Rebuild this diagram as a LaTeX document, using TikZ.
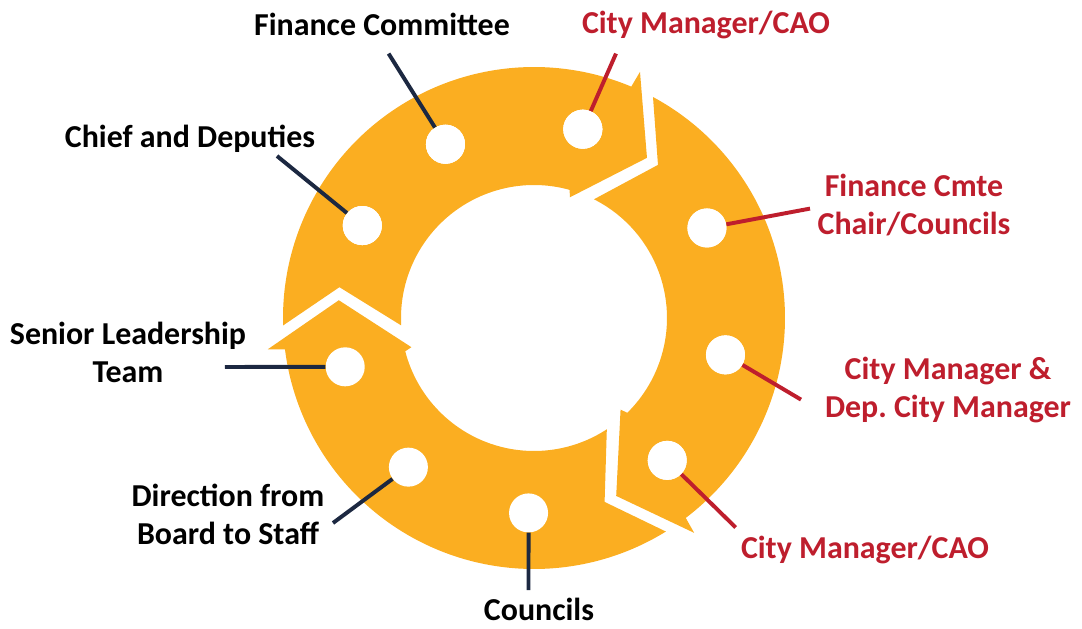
\documentclass[tikz,border=0pt]{standalone}
\usepackage{fontspec}
\setmainfont{Carlito}
\frenchspacing
\definecolor{ringorange}{HTML}{FBAE21}
\definecolor{labelred}{HTML}{BE1E2D}
\definecolor{linenavy}{HTML}{1C2841}
\tikzset{
  ring/.style={fill=ringorange},
  dot/.style={circle,fill=white,inner sep=0pt,minimum size=0.975cm},
  lbl/.style={font=\fontsize{22.7}{27}\selectfont\bfseries,align=center},
  navyline/.style={draw=linenavy,line width=2.8pt},
  redline/.style={draw=labelred,line width=2.8pt}
}
\newcommand*{\cyclearrow}[1]{%
  \fill[ring,rotate=#1] (181.7:251) arc[start angle=181.7,end angle=67.2,radius=251]
    -- (66.7:268) -- (54.8:196) -- (73.4:126) -- (74.5:133)
    arc[start angle=74.5,end angle=183.2,radius=133] -- (171:197) -- cycle;}

\begin{document}
\begin{tikzpicture}[x=0.025cm,y=0.025cm]
\useasboundingbox (-534,-311) rectangle (548,318);
\foreach \r in {0,-120,-240}
  \cyclearrow{\r}
\foreach \a/\n in {117/fc,75.5/cmt,151.7/cd,27.5/fcc,194.5/sl,-10.9/cmd,229.9/db,-46.9/cmb,268.4/co}
  \node[dot] (\n-dot) at (\a:195) {};
\node[lbl] (fc) at (-152,294) {Finance Committee};
\node[lbl,text=labelred] (cmt) at (172,293) {City Manager/CAO};
\node[lbl] (cd) at (-344,179) {Chief and Deputies};
\node[lbl,text=labelred] (fcc) at (380,113) {Finance Cmte\\Chair/Councils};
\node[lbl] (sl) at (-406,-34) {Senior Leadership\\Team};
\node[lbl,text=labelred] (cmd) at (414,-72) {City Manager \&\\Dep. City Manager};
\node[lbl] (db) at (-306,-196) {Direction from\\Board to Staff};
\node[lbl,text=labelred] (cmb) at (331,-232) {City Manager/CAO};
\node[lbl] (co) at (5,-291) {Councils};
\coordinate (fc-end) at (-145.4,264.4);
\coordinate (cmt-end) at (82,264.4);
\coordinate (cd-end) at (-257,162);
\coordinate (fcc-end) at (276,109.4);
\coordinate (sl-end) at (-309,-49);
\coordinate (cmd-end) at (267,-81.6);
\coordinate (db-end) at (-201,-205);
\coordinate (cmb-end) at (201.7,-209.5);
\coordinate (co-end) at (-5.5,-272);
\foreach \n in {fc,cd,sl,db,co}
  \draw[navyline] (\n-end) -- (\n-dot);
\foreach \n in {cmt,fcc,cmd,cmb}
  \draw[redline] (\n-end) -- (\n-dot);
\end{tikzpicture}
\end{document}
